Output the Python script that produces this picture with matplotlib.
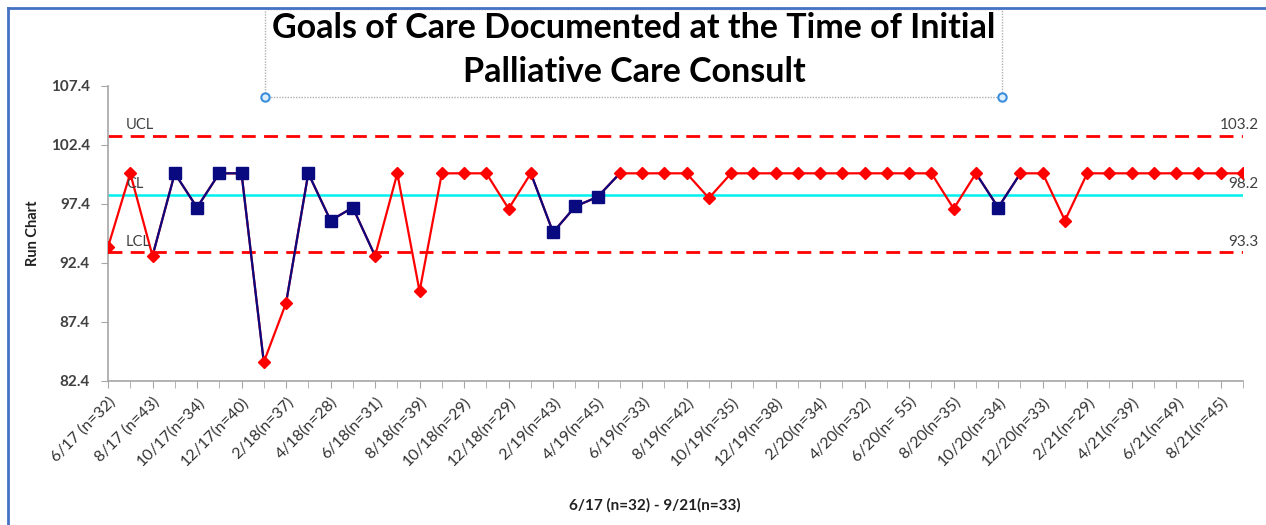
import numpy as np
import matplotlib
matplotlib.use("Agg")
from matplotlib import pyplot as plt
from matplotlib.lines import Line2D
from matplotlib.patches import Rectangle

plt.rcParams['font.family'] = ['Lato', 'DejaVu Sans']

# monthly values 6/17 .. 9/21
values = [93.75, 100, 93.0, 100, 97.1, 100, 100, 84.0, 89.0, 100,
          96.0, 97.1, 93.0, 100, 90.0, 100, 100, 100, 97.0, 100,
          95.0, 97.2, 98.0, 100, 100, 100, 100, 97.9, 100, 100,
          100, 100, 100, 100, 100, 100, 100, 100, 97.0, 100,
          97.1, 100, 100, 96.0, 100, 100, 100, 100, 100, 100,
          100, 100]
# points flagged as part of a run (drawn as navy squares)
run_points = [3, 4, 5, 6, 9, 10, 11, 20, 21, 22, 40]

tick_labels = ["6/17 (n=32)", "8/17 (n=43)", "10/17(n=34)", "12/17(n=40)",
               "2/18(n=37)", "4/18(n=28)", "6/18(n=31)", "8/18(n=39)",
               "10/18(n=29)", "12/18(n=29)", "2/19(n=43)", "4/19(n=45)",
               "6/19(n=33)", "8/19(n=42)", "10/19(n=35)", "12/19(n=38)",
               "2/20(n=34)", "4/20(n=32)", "6/20(n= 55)", "8/20(n=35)",
               "10/20(n=34)", "12/20(n=33)", "2/21(n=29)", "4/21(n=39)",
               "6/21(n=49)", "8/21(n=45)"]

ucl, cl, lcl = 103.2, 98.2, 93.3
yticks = [82.4, 87.4, 92.4, 97.4, 102.4, 107.4]

RED = "#FF0000"
NAVY = "#0A0A80"
GRAY = "#404040"

x = np.arange(len(values))
y = np.array(values)
is_run = np.zeros(len(values), dtype=bool)
is_run[run_points] = True

fig = plt.figure(figsize=(12.66, 5.25), dpi=100)
ax = fig.add_axes([108 / 1266, 1 - 381 / 525, (1243 - 108) / 1266, (381 - 86) / 525])

# control limits
ax.axhline(ucl, color=RED, lw=2, ls=(0, (5, 3)), zorder=1)
ax.axhline(lcl, color=RED, lw=2, ls=(0, (5, 3)), zorder=1)
ax.axhline(cl, color="#00F0F0", lw=1.8, zorder=1)

# base line in red, run segments in navy
ax.plot(x, y, color=RED, lw=1.6, zorder=2)
seg_x, seg_y = [], []
for i in range(len(values) - 1):
    if is_run[i] or is_run[i + 1]:
        seg_x += [x[i], x[i + 1], np.nan]
        seg_y += [y[i], y[i + 1], np.nan]
ax.plot(seg_x, seg_y, color=NAVY, lw=1.6, zorder=3)
ax.plot(x[~is_run], y[~is_run], ls="none", marker="D", ms=6, color=RED, zorder=4)
ax.plot(x[is_run], y[is_run], ls="none", marker="s", ms=8, color=NAVY, zorder=4)

# line labels
ax.text(0.8, ucl + 0.3, "UCL", fontsize=10.5, color=GRAY, va="bottom")
ax.text(0.8, cl + 0.3, "CL", fontsize=10.5, color=GRAY, va="bottom")
ax.text(0.8, lcl + 0.3, "LCL", fontsize=10.5, color=GRAY, va="bottom")
for v in (ucl, cl, lcl):
    ax.text(len(values) - 0.3, v + 0.3, f"{v:.1f}", fontsize=11, color=GRAY,
            va="bottom", ha="right", clip_on=False)

ax.set_xlim(0, len(values) - 1)
ax.set_ylim(yticks[0], yticks[-1])
ax.set_yticks(yticks)
ax.set_yticklabels([f"{t:.1f}" for t in yticks], fontsize=11, fontweight="bold", color=GRAY)
ax.set_xticks(x, minor=True)
ax.set_xticks(x[::2])
ax.set_xticklabels(tick_labels, rotation=45, ha="right", rotation_mode="anchor",
                   fontsize=11.5, color="#333333")
ax.tick_params(axis="x", which="both", length=5, color="#A6A6A6", direction="out", pad=5)
ax.tick_params(axis="y", length=5, color="#A6A6A6", pad=8)
for s in ("top", "right"):
    ax.spines[s].set_visible(False)
for s in ("left", "bottom"):
    ax.spines[s].set_color("#A6A6A6")
    ax.spines[s].set_linewidth(1.2)

ax.set_ylabel("Run Chart", fontsize=10.5, fontweight="bold", color="#202020", labelpad=8)
fig.text(655 / 1266, 1 - 505 / 525, "6/17 (n=32) - 9/21(n=33)", ha="center", va="center",
         fontsize=11, fontweight="bold", color="#202020")

# title in a selected text box
fig.text(634 / 1266, 1 - 28 / 525, "Goals of Care Documented at the Time of Initial",
         ha="center", va="center", fontsize=24.5, fontweight="bold", color="black")
fig.text(634 / 1266, 1 - 72 / 525, "Palliative Care Consult",
         ha="center", va="center", fontsize=24.5, fontweight="bold", color="black")
fig.add_artist(Rectangle((265 / 1266, 1 - 97 / 525), (1002 - 265) / 1266, 88 / 525,
                         transform=fig.transFigure, fill=False, ec="#B0B0B0",
                         lw=1, ls=(0, (1, 1))))
for hx in (265, 1002):
    fig.add_artist(Line2D([hx / 1266], [1 - 97 / 525], transform=fig.transFigure,
                          marker="o", ms=6, mfc="#DDEEFF", mec="#3B8EDB", mew=1.5))

# outer chart border
fig.add_artist(Line2D([8 / 1266, 8 / 1266], [0, 1 - 8 / 525], transform=fig.transFigure,
                      color="#4472C4", lw=2))
fig.add_artist(Line2D([8 / 1266, 1], [1 - 8 / 525, 1 - 8 / 525], transform=fig.transFigure,
                      color="#4472C4", lw=2))

fig.savefig("out.png", dpi=100)
